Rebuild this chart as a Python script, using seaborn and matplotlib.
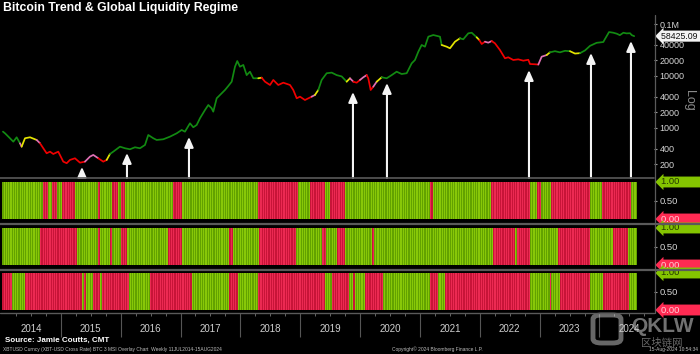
import numpy as np
import pandas as pd
import matplotlib
matplotlib.use("Agg")
import matplotlib.pyplot as plt
import matplotlib.transforms as mtransforms
from matplotlib.lines import Line2D
from matplotlib.patches import FancyBboxPatch
import seaborn as sns

sns.set_theme(style="dark")
plt.rcParams["font.family"] = ["Liberation Sans", "DejaVu Sans"]
plt.rcParams["axes.facecolor"] = "black"
plt.rcParams["figure.facecolor"] = "black"

# ---------------- data ----------------
price_t = [2014.033, 2014.067, 2014.150, 2014.206, 2014.262, 2014.317,
           2014.345,
           2014.401, 2014.485, 2014.596,
           2014.652,
           2014.707, 2014.763, 2014.819, 2014.874, 2014.957, 2015.041, 2015.098, 2015.153, 2015.236, 2015.320, 2015.403,
           2015.487, 2015.542, 2015.626,
           2015.709, 2015.766,
           2015.821,
           2015.876, 2015.988, 2016.072, 2016.155, 2016.239, 2016.322, 2016.406, 2016.461, 2016.545, 2016.601,
           2016.712, 2016.824, 2016.936, 2017.019, 2017.074, 2017.158, 2017.213, 2017.270, 2017.325, 2017.409,
           2017.464, 2017.520, 2017.547, 2017.604, 2017.659, 2017.743, 2017.798, 2017.855, 2017.910, 2017.948,
           2017.993, 2018.049, 2018.105, 2018.160, 2018.216, 2018.299,
           2018.356,
           2018.411, 2018.495, 2018.550, 2018.633, 2018.717, 2018.829, 2018.884, 2018.941, 2018.996, 2019.079, 2019.191,
           2019.246,
           2019.302,
           2019.358, 2019.442, 2019.526, 2019.609, 2019.693, 2019.776,
           2019.831,
           2019.887,
           2019.943, 2019.998,
           2020.054, 2020.110,
           2020.137, 2020.177, 2020.221,
           2020.278,
           2020.361,
           2020.444, 2020.528, 2020.611, 2020.695, 2020.779, 2020.862, 2020.917, 2020.973, 2021.029, 2021.084,
           2021.140, 2021.223, 2021.290, 2021.335, 2021.363,
           2021.447, 2021.502, 2021.586, 2021.669,
           2021.724, 2021.808, 2021.865, 2021.948,
           2021.992,
           2022.032, 2022.087,
           2022.142, 2022.199,
           2022.254, 2022.337, 2022.421, 2022.476, 2022.560, 2022.643, 2022.727, 2022.811, 2022.839, 2022.922, 2022.978,
           2023.034, 2023.118,
           2023.173,
           2023.256, 2023.340, 2023.424, 2023.507,
           2023.591, 2023.675,
           2023.758, 2023.842, 2023.953, 2024.064, 2024.090, 2024.160, 2024.230, 2024.290, 2024.340, 2024.400,
           2024.450, 2024.510, 2024.540, 2024.580]
price_v = [850, 790, 634, 545, 662, 508,
           437,
           634, 662, 588,
           508,
           407, 326, 350, 316, 350, 225, 210, 243, 261, 215, 225,
           281, 303, 261,
           225, 243,
           316,
           350, 437, 407, 389, 425, 407, 471, 733, 634, 588,
           606, 681, 790, 915, 849, 1231, 1031, 1142, 1537, 2219,
           2768, 2392, 2058, 3725, 4310, 5380, 6420, 7770, 15100, 19400,
           15100, 16300, 10400, 12100, 9030, 9030,
           9280,
           7770, 6710, 8380, 6710, 7430, 6710, 5380, 3725, 4000, 3450, 4000,
           4310,
           5380,
           8380, 11300, 11600, 10400, 9800, 7770,
           9030,
           7770,
           7430, 8380,
           9440, 10400,
           9030, 5380, 6230,
           7770,
           9440,
           9030, 10400, 12100, 10900, 11300, 17500, 20300, 29300, 39500, 36600,
           57000, 61400, 58800, 57000, 39500,
           36600, 34100, 45700, 53100,
           50800, 66200, 68000, 55500,
           49200,
           41200, 45700,
           43700, 47000,
           42500, 31600, 21900, 22900, 20300, 20900, 19700, 20500, 17000, 16800, 16600,
           23500, 25300,
           28500,
           30000, 28500, 30500, 30000,
           27000, 27500,
           31000, 38000, 43500, 45000, 51000, 70000, 68000, 65000, 61000, 68000,
           66000, 66500, 61000, 58425]
# trend state per point: G=uptrend, R=downtrend, Y=neutral-up, P=neutral-down
price_state = ("G" * 6 + "P" + "Y" * 3 + "P" + "R" * 11 + "P" * 3 + "R" * 2 + "Y" + "G" * 36 + "Y"
               + "R" * 11 + "P" + "Y" + "G" * 6 + "Y" + "P" + "R" * 2 + "P" * 2 + "R" * 3 + "P" + "Y"
               + "G" * 15 + "Y" * 4 + "G" * 4 + "Y" + "R" * 2 + "P" * 2 + "R" * 11 + "P" * 2 + "Y"
               + "G" * 4 + "Y" * 2 + "G" * 14)

last_price = 58425.09

# signal arrows (date, price at arrow tip)
arrow_t = [2015.353, 2016.105, 2017.141, 2019.881, 2020.449, 2022.822, 2023.858, 2024.526]
arrow_v = [178, 330, 672, 4920, 7330, 13000, 27700, 47100]

# liquidity regimes: first state and switch dates (decimal years)
regime1_first = "G"
regime1_breaks = [2014.702, 2014.785, 2014.852, 2014.952, 2015.019, 2015.236, 2015.621, 2015.654,
                  2015.855, 2015.955, 2015.988, 2016.072, 2016.874, 2017.041, 2018.294, 2018.962,
                  2019.163, 2019.413, 2019.497, 2019.748, 2021.168, 2021.202, 2022.188, 2022.839,
                  2022.956, 2023.023, 2023.190, 2023.842, 2024.042, 2024.527]
regime2_first = "G"
regime2_breaks = [2014.652, 2015.270, 2015.621, 2015.654, 2015.821, 2015.871, 2015.988, 2016.105,
                  2016.790, 2017.041, 2017.826, 2017.876, 2018.311, 2018.929, 2019.363, 2019.430,
                  2019.614, 2019.748, 2020.199, 2020.232, 2022.221, 2022.588, 2022.638, 2022.839,
                  2023.290, 2023.842, 2024.226, 2024.476]
regime3_first = "R"
regime3_breaks = [2014.184, 2014.401, 2015.353, 2015.387, 2015.420, 2015.537, 2015.654, 2015.688,
                  2016.122, 2016.490, 2017.191, 2017.810, 2017.960, 2018.294, 2019.413, 2019.530,
                  2019.815, 2019.881, 2019.915, 2020.082, 2020.383, 2021.168, 2021.302, 2021.419,
                  2022.839, 2023.156, 2023.190, 2023.340, 2023.842, 2024.075, 2024.493]

week_t = np.arange(2014.033, 2024.62, 7 / 365.25)
years = list(range(2014, 2025))

# ---------------- layout ----------------
W, H = 700, 354
fig = plt.figure(figsize=(7.0, 3.54), dpi=100, facecolor="black")


def fx(px):
    return px / W


def fy(py):
    return 1 - py / H


X_LEFT, X_RIGHT = 2, 654
XLIM = (2014.017, 2024.911)

ax0 = fig.add_axes([fx(X_LEFT), fy(178), fx(X_RIGHT - X_LEFT), (178 - 15) / H])
panel_tops = [180, 226, 271]
panels = [fig.add_axes([fx(X_LEFT), fy(t + 42), fx(X_RIGHT - X_LEFT), 42 / H]) for t in panel_tops]

for ax in [ax0] + panels:
    ax.set_facecolor("black")
    ax.grid(False)
    for s in ax.spines.values():
        s.set_visible(False)
    ax.set_xlim(*XLIM)

# ---------------- price panel ----------------
line_colors = {"G": "#128a12", "R": "#f00000", "Y": "#e4e400", "P": "#e070b4"}
pt = np.array(price_t)
pv = np.array(price_v, dtype=float)
n = len(pt)
i = 0
while i < n:
    j = i
    while j + 1 < n and price_state[j + 1] == price_state[i]:
        j += 1
    a = max(i - 1, 0)
    sns.lineplot(x=pt[a:j + 1], y=pv[a:j + 1], color=line_colors[price_state[i]], lw=1.25,
                 estimator=None, sort=False, legend=False, ax=ax0)
    i = j + 1

ax0.set_yscale("log")
ax0.set_ylim(109, 149000)
ax0.set_xlim(*XLIM)
ax0.set_xlabel("")
ax0.set_ylabel("")
price_ticks = [200, 400, 1000, 2000, 4000, 10000, 20000, 40000, 100000]
price_labels = ["200", "400", "1000", "2000", "4000", "10000", "20000", "40000", "0.1M"]
ax0.yaxis.set_major_locator(matplotlib.ticker.FixedLocator(price_ticks))
ax0.yaxis.set_minor_locator(matplotlib.ticker.NullLocator())
ax0.set_yticklabels(price_labels)
ax0.tick_params(axis="y", which="major", left=False, labelleft=False, right=True, labelright=True,
                direction="out", length=2.5, width=0.8, color="#a0a0a0", labelcolor="#d4d4d4",
                labelsize=6.5, pad=1.5)
ax0.tick_params(axis="x", bottom=False, labelbottom=False)

for t, v in zip(arrow_t, arrow_v):
    ax0.annotate("", xy=(t, v), xycoords="data", xytext=(t, 0.0), textcoords=("data", "axes fraction"),
                 arrowprops=dict(arrowstyle="-|>,head_length=0.5,head_width=0.22", color="#f4f4f4",
                                 lw=1.5, shrinkA=0, shrinkB=0, mutation_scale=12))

tr0 = mtransforms.blended_transform_factory(ax0.transAxes, ax0.transData)
ax0.text(1 + 7 / 652, last_price, f"{last_price:.2f} ", transform=tr0, fontsize=6.3, color="#111111",
         va="center", ha="left", clip_on=False,
         bbox=dict(boxstyle="larrow,pad=0.12", fc="#f4f4f4", ec="none"))
fig.text(fx(689), fy(100), "Log", rotation=270, color="#8a8a8a", fontsize=9, ha="center", va="center")

# ---------------- regime panels ----------------
bar_palette = {"G0": "#62a200", "G1": "#88c808", "R0": "#c81438", "R1": "#ec2a52"}
other = {"G": "R", "R": "G"}
regimes = [(regime1_first, regime1_breaks), (regime2_first, regime2_breaks), (regime3_first, regime3_breaks)]
for ax, (first, breaks) in zip(panels, regimes):
    idx = np.searchsorted(np.array(breaks), week_t, side="right")
    st = [first if k % 2 == 0 else other[first] for k in idx]
    df = pd.DataFrame({"t": week_t, "v": 1.0,
                       "c": [s + str(q % 2) for q, s in enumerate(st)]})
    sns.barplot(data=df, x="t", y="v", hue="c", palette=bar_palette, native_scale=True, dodge=False,
                width=1.0, errorbar=None, legend=False, saturation=1, linewidth=0, ax=ax)
    ax.set_xlim(*XLIM)
    ax.set_ylim(-0.081, 1.054)
    ax.set_xlabel("")
    ax.set_ylabel("")
    ax.yaxis.set_major_locator(matplotlib.ticker.FixedLocator([0.5]))
    ax.set_yticklabels(["0.50"])
    ax.tick_params(axis="y", left=False, labelleft=False, right=True, labelright=True, direction="out",
                   length=2.5, width=0.8, color="#a0a0a0", labelcolor="#d4d4d4", labelsize=6.8, pad=1.5)
    ax.tick_params(axis="x", bottom=False, labelbottom=False)
    trp = mtransforms.blended_transform_factory(ax.transAxes, ax.transData)
    ax.text(1 + 7 / 652, 1.0, "1.00        ", transform=trp, fontsize=6.8, color="#243800", va="center",
            ha="left", clip_on=False, bbox=dict(boxstyle="larrow,pad=0.1", fc="#84c400", ec="none"))
    ax.text(1 + 7 / 652, 0.0, "0.00        ", transform=trp, fontsize=6.8, color="#ffd0d8", va="center",
            ha="left", clip_on=False, bbox=dict(boxstyle="larrow,pad=0.1", fc="#ff2a52", ec="none"))

ax3 = panels[-1]
ax3.xaxis.set_major_locator(matplotlib.ticker.FixedLocator(years[1:]))
ax3.xaxis.set_minor_locator(matplotlib.ticker.FixedLocator([y + q / 4 for y in years for q in (1, 2, 3)]))
ax3.tick_params(axis="x", which="major", bottom=True, labelbottom=False, direction="out", length=17,
                width=0.8, color="#555555")
ax3.tick_params(axis="x", which="minor", bottom=True, direction="out", length=2, width=0.6, color="#777777")

trx = mtransforms.blended_transform_factory(ax3.transData, fig.transFigure)
for y in years:
    ax3.text(y + 0.5, fy(329), str(y), transform=trx, fontsize=7, color="#d0d0d0", ha="center",
             va="center", clip_on=False)

# ---------------- frame lines ----------------
gray = "#5a5a5a"
for (x0, x1, yy, lw) in [(0, 654, 178, 1.2), (0, 700, 223.5, 1.6), (0, 700, 269.5, 1.6), (0, 654, 313, 1.0)]:
    fig.add_artist(Line2D([fx(x0), fx(x1)], [fy(yy), fy(yy)], color=gray, lw=lw))
fig.add_artist(Line2D([fx(654.5), fx(654.5)], [fy(15), fy(313)], color=gray, lw=0.9))

# ---------------- texts ----------------
fig.text(fx(3), fy(8), "Bitcoin Trend & Global Liquidity Regime", color="white", fontsize=8.8,
         fontweight="bold", ha="left", va="center")
fig.text(fx(5), fy(340), "Source: Jamie Coutts, CMT", color="white", fontsize=5.8, fontweight="bold",
         ha="left", va="center")
fig.text(fx(3), fy(349), "XBTUSD Curncy (XBT-USD Cross Rate) BTC 3 MSI Overlay Chart  Weekly 11JUL2014-15AUG2024",
         color="#bdbdbd", fontsize=3.5, ha="left", va="center")
fig.text(fx(392), fy(349), "Copyright\u00a9 2024 Bloomberg Finance L.P.", color="#bdbdbd", fontsize=3.5,
         ha="left", va="center")
fig.text(fx(698), fy(349), "15-Aug-2024 10:54:34", color="#bdbdbd", fontsize=3.5, ha="right", va="center")

# watermark
fig.add_artist(FancyBboxPatch((fx(593), fy(343)), fx(28), 28 / H, boxstyle="round,pad=0,rounding_size=0.012",
                              transform=fig.transFigure, fc="none", ec="#cfcfcf", lw=3.5, alpha=0.5))
fig.text(fx(662), fy(326), "QKLW", color="#d0d0d0", alpha=0.55, fontsize=15, fontweight="bold",
         ha="center", va="center")
fig.text(fx(662), fy(343), "区块链网", color="#d0d0d0", alpha=0.5, fontsize=7.5, ha="center", va="center",
         family=["Noto Sans CJK SC", "DejaVu Sans"])

fig.savefig("out.png", dpi=100, facecolor="black")
